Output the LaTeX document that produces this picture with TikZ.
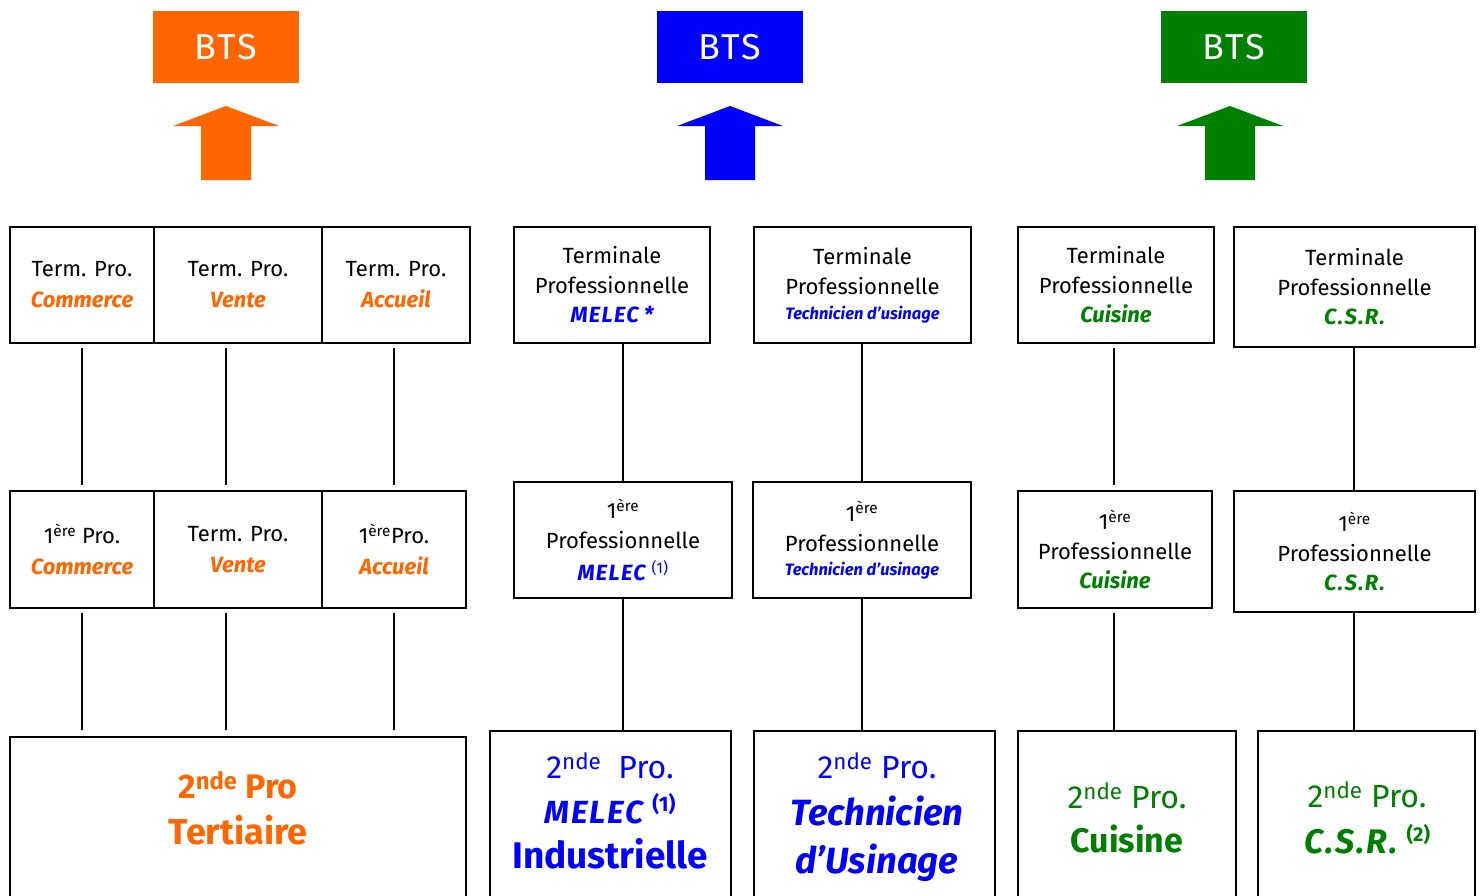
\documentclass[tikz,border=0pt]{standalone}
\usepackage{fontspec}
\setmainfont{Fira Sans}
\definecolor{orng}{HTML}{FF6600}
\definecolor{blu}{HTML}{0000FF}
\definecolor{grn}{HTML}{008000}
\newcommand{\bi}[1]{{\bfseries\itshape #1}}
\newcommand{\wide}[1]{{\addfontfeatures{LetterSpace=6}#1}}
\begin{document}
\begin{tikzpicture}[x=1pt,y=-1pt,
  box/.style={draw=black, line width=1.6pt, inner sep=0pt, align=center,
    font=\fontsize{22}{30}\selectfont},
  link/.style={draw=black, line width=1.6pt},
  bts/.style={inner sep=0pt, minimum width=146pt, minimum height=72pt,
    text=white, font=\fontsize{36}{40}\selectfont},
  big/.style={align=center, inner sep=0pt},
]
\useasboundingbox (0,0) rectangle (1482,895);
\clip (0,0) rectangle (1482,895);
\fill[white] (0,0) rectangle (1482,895);

% BTS boxes
\node[bts, fill=orng] (btsA) at (226,47) {\wide{BTS}};
\node[bts, fill=blu]  (btsB) at (730,47) {\wide{BTS}};
\node[bts, fill=grn]  (btsC) at (1234,47) {\wide{BTS}};

% arrows
\foreach \cx/\col in {226/orng, 730/blu, 1230/grn}{
  \fill[\col] (\cx,106) -- (\cx+53,126) -- (\cx+25,126) -- (\cx+25,180)
    -- (\cx-25,180) -- (\cx-25,126) -- (\cx-53,126) -- cycle;
}

% ---------- left group (orange)
\node[box, minimum width=144pt, minimum height=116pt] (tA) at (82,285)
  {Term. Pro.\\[1pt]\textcolor{orng}{\bi{Commerce}}};
\node[box, minimum width=168pt, minimum height=116pt] (tB) at (238,285)
  {Term. Pro.\\[1pt]\textcolor{orng}{\bi{Vente}}};
\node[box, minimum width=148pt, minimum height=116pt] (tC) at (396,285)
  {Term. Pro.\\[1pt]\textcolor{orng}{\bi{Accueil}}};
\node[box, minimum width=144pt, minimum height=117pt] (pA) at (82,549.5)
  {1\textsuperscript{ère} Pro.\\[1pt]\textcolor{orng}{\bi{Commerce}}};
\node[box, minimum width=168pt, minimum height=117pt] (pB) at (238,549.5)
  {Term. Pro.\\[1pt]\textcolor{orng}{\bi{Vente}}};
\node[box, minimum width=144pt, minimum height=117pt] (pC) at (394,549.5)
  {1\textsuperscript{ère}Pro.\\[1pt]\textcolor{orng}{\bi{Accueil}}};
\node[box, minimum width=456pt, minimum height=200pt] (oB) at (238,837) {};
\node[big, text=orng, font=\bfseries\fontsize{34}{46}\selectfont] (oBt) at (238,808)
  {2\textsuperscript{nde} Pro\\{\fontsize{36}{46}\selectfont Tertiaire}};

\coordinate (xA) at (82,0);
\coordinate (xB) at (226,0);
\coordinate (xC) at (394,0);
\draw[link] (tA.south -| xA) ++(0,4) -- ([yshift=5pt]pA.north -| xA);
\draw[link] (tB.south -| xB) ++(0,4) -- ([yshift=5pt]pB.north -| xB);
\draw[link] (tC.south -| xC) ++(0,4) -- ([yshift=5pt]pC.north -| xC);
\draw[link] (pA.south -| xA) ++(0,4) -- ([yshift=6pt]oB.north -| xA);
\draw[link] (pB.south -| xB) ++(0,4) -- ([yshift=6pt]oB.north -| xB);
\draw[link] (pC.south -| xC) ++(0,4) -- ([yshift=6pt]oB.north -| xC);

% ---------- middle group (blue)
\node[box, minimum width=196pt, minimum height=116pt] (mT) at (612,285)
  {Terminale\\Professionnelle\\[-1pt]\textcolor{blu}{\bi{\wide{MELEC} *}}};
\node[box, minimum width=217pt, minimum height=116pt] (uT) at (862.5,285)
  {Terminale\\Professionnelle\\[-5pt]\textcolor{blu}{\fontsize{16.5}{20}\selectfont\bi{Technicien d’usinage}}};
\node[box, minimum width=218pt, minimum height=116pt] (mP) at (623,540)
  {1\textsuperscript{ère}\\Professionnelle\\[2pt]\textcolor{blu}{\bi{\wide{MELEC}} \textsuperscript{(1)}}};
\node[box, minimum width=218pt, minimum height=116pt] (uP) at (862,540)
  {1\textsuperscript{ère}\\Professionnelle\\[-6pt]\textcolor{blu}{\fontsize{16.5}{20}\selectfont\bi{Technicien d’usinage}}};
\node[box, minimum width=241pt, minimum height=200pt] (mB) at (610.5,831) {};
\node[big, text=blu] (mBt) at (610,811)
  {{\fontsize{32}{32}\selectfont 2\textsuperscript{nde}\ \ Pro.}\\[13pt]
   {\fontsize{32}{32}\selectfont\bi{\wide{MELEC}} {\bfseries\fontsize{21}{21}\selectfont\raisebox{12pt}{(1)}}}\\[14pt]
   {\fontsize{37}{37}\selectfont\bfseries Industrielle}};
\node[box, minimum width=241pt, minimum height=200pt] (uB) at (874.5,831) {};
\node[big, text=blu] (uBt) at (877,817)
  {{\fontsize{32}{32}\selectfont 2\textsuperscript{nde} Pro.}\\[16pt]
   {\fontsize{36.5}{36.5}\selectfont\bi{Technicien}}\\[17pt]
   {\fontsize{36.5}{36.5}\selectfont\bi{d’Usinage}}};

\draw[link] (mT.south -| mP.north) -- (mP.north);
\draw[link] (uT.south -| uP.north) -- (uP.north);
\draw[link] (mP.south) -- (mP.south |- mB.north);
\draw[link] (uP.south) -- (uP.south |- uB.north);

% ---------- right group (green)
\node[box, minimum width=196pt, minimum height=116pt] (cT) at (1116,285)
  {Terminale\\Professionnelle\\[-1pt]\textcolor{grn}{\bi{Cuisine}}};
\node[box, minimum width=241pt, minimum height=120pt] (sT) at (1354.5,287)
  {Terminale\\Professionnelle\\[-1pt]\textcolor{grn}{\bi{\wide{C.S.R.}}}};
\node[box, minimum width=194pt, minimum height=117pt] (cP) at (1115,549.5)
  {1\textsuperscript{ère}\\Professionnelle\\[-1pt]\textcolor{grn}{\bi{Cuisine}}};
\node[box, minimum width=241pt, minimum height=121pt] (sP) at (1354.5,551.5)
  {1\textsuperscript{ère}\\Professionnelle\\[-1pt]\textcolor{grn}{\bi{\wide{C.S.R.}}}};
\node[box, minimum width=218pt, minimum height=200pt] (cB) at (1127,831) {};
\node[big, text=grn] (cBt) at (1127,818)
  {{\fontsize{32}{32}\selectfont 2\textsuperscript{nde} Pro.}\\[15pt]
   {\fontsize{34}{34}\selectfont\bfseries Cuisine}};
\node[big, text=grn] (sBt) at (1367,818)
  {{\fontsize{32}{32}\selectfont 2\textsuperscript{nde} Pro.}\\[15pt]
   {\fontsize{34}{34}\selectfont\bi{\wide{C.S.R.}} {\bfseries\fontsize{20}{20}\selectfont\raisebox{12pt}{(2)}}}};
\node[box, minimum width=217pt, minimum height=200pt] (sB) at (1366.5,831) {};

\coordinate (xD) at (1114,0);
\coordinate (xE) at (1354,0);
\draw[link] (cT.south -| xD) ++(0,4) -- ([yshift=5pt]cP.north -| xD);
\draw[link] (sT.south -| xE) -- (sP.north -| xE);
\draw[link] (cP.south -| xD) ++(0,4) -- (cB.north -| xD);
\draw[link] (sP.south -| xE) -- (sB.north -| xE);
\end{tikzpicture}
\end{document}
